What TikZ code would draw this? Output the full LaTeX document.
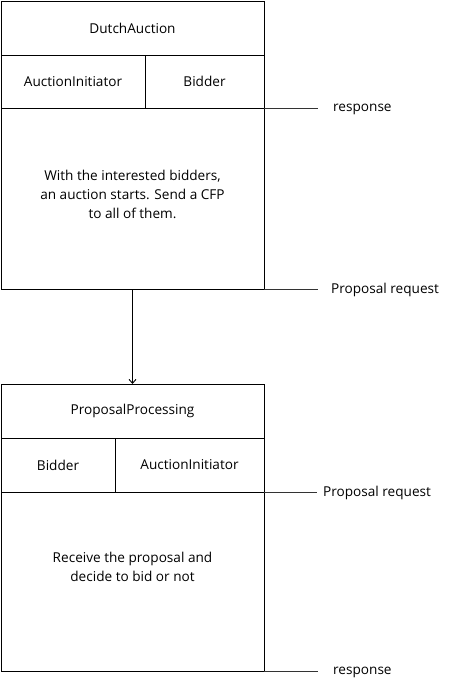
\documentclass[tikz,border=0pt]{standalone}
\usepackage{fontspec}
\setmainfont{Open Sans}
\usetikzlibrary{arrows.meta,positioning}

\begin{document}
\begin{tikzpicture}[x=1pt,y=-1pt,
    cell/.style={draw=black,line width=0.9pt,rectangle,inner sep=0pt,outer sep=0pt,
      align=center,font=\fontsize{13.6}{19}\selectfont},
    note/.style={inner sep=0pt,align=center,font=\fontsize{13.6}{19}\selectfont},
    label/.style={anchor=west,inner sep=0pt,font=\fontsize{13.6}{16}\selectfont},
    msgline/.style={draw=black!80,line width=0.9pt}]
      \useasboundingbox (0,0) rectangle (448,690);
      % first protocol
      \begin{scope}[every node/.style={cell}]
        \node (daTitle) [minimum width=263pt,minimum height=54pt] at (132.5,28) {DutchAuction};
        \node (daInit) [minimum width=144pt,minimum height=53pt] at (73,81.5) {AuctionInitiator};
        \node (daBid) [minimum width=119pt,minimum height=53pt] at (204.5,81.5) {Bidder};
        \node (daBody) [minimum width=263pt,minimum height=181pt] at (132.5,198.5) {};
      \end{scope}
      \node[note] (daText) at (132.5,194.5)
        {With the interested bidders,\\an auction starts. Send a CFP\\to all of them.};
      % second protocol
      \begin{scope}[every node/.style={cell}]
        \node (ppTitle) [minimum width=263pt,minimum height=54pt] at (132.5,411) {ProposalProcessing};
        \node (ppBid) [minimum width=114pt,minimum height=54pt] at (58,465) {Bidder};
        \node (ppInit) [minimum width=149pt,minimum height=54pt] at (189.5,465) {AuctionInitiator};
        \node (ppBody) [minimum width=263pt,minimum height=179pt] at (132.5,581.5) {};
      \end{scope}
      \node[note] (ppText) at (132.5,567)
        {Receive the proposal and\\decide to bid or not};
      % messages
      \coordinate (daOut) at (318,108);
      \coordinate (daIn) at (318,289);
      \coordinate (ppIn) at (317,492);
      \coordinate (ppOut) at (318,671);
      \draw[msgline] (daBody.north east) -- (daOut);
      \draw[msgline] (daBody.south east) -- (daIn);
      \draw[msgline] (ppBody.north east) -- (ppIn);
      \draw[msgline] (ppBody.south east) -- (ppOut);
      \node[label] (daOutL) at (333,109) {response};
      \node[label] (daInL) at (331,290) {Proposal request};
      \node[label] (ppInL) at (323,493) {Proposal request};
      \node[label] (ppOutL) at (333,672) {response};
      \draw[line width=0.9pt,-{Straight Barb[length=4pt,width=7pt]}] (daBody.south) -- (ppTitle.north);
    \end{tikzpicture}
\end{document}
